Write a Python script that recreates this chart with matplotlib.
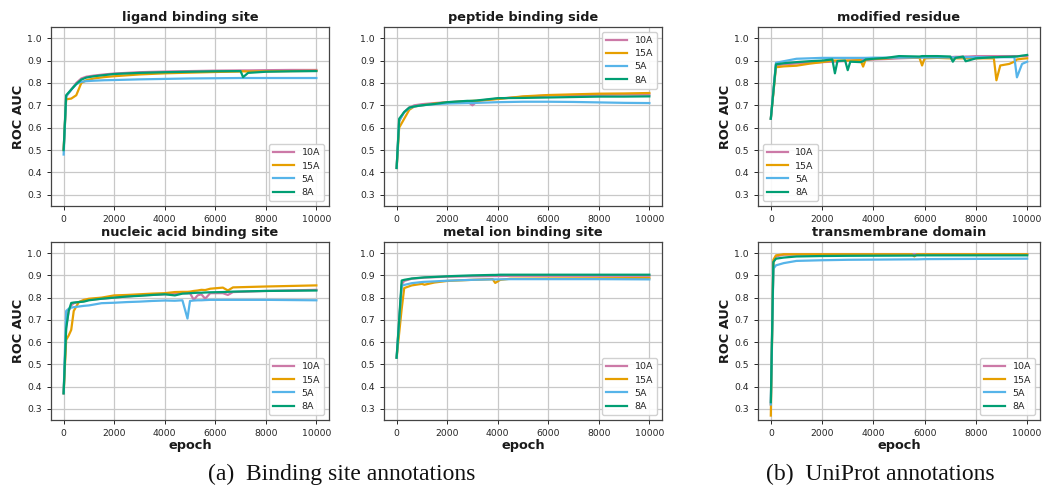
import matplotlib
matplotlib.use("Agg")
import matplotlib.pyplot as plt
import numpy as np

series_names = ["10A", "15A", "5A", "8A"]
colors = ["#CC79A7", "#E69F00", "#56B4E9", "#009E73"]

# ---------------- ligand binding site ----------------
lig_x = [0, 100, 300, 500, 700, 900, 1200, 1600, 2000, 3000, 4000, 5000, 6000, 7000, 7100, 7300, 8000, 9000, 10000]
lig_10A = [0.50, 0.74, 0.77, 0.80, 0.82, 0.828, 0.833, 0.838, 0.842, 0.848, 0.851, 0.853, 0.855, 0.856, 0.856, 0.856, 0.857, 0.858, 0.858]
lig_15A = [0.50, 0.727, 0.73, 0.745, 0.80, 0.812, 0.82, 0.826, 0.83, 0.838, 0.843, 0.846, 0.849, 0.851, 0.852, 0.851, 0.852, 0.853, 0.854]
lig_5A = [0.48, 0.74, 0.77, 0.795, 0.805, 0.808, 0.81, 0.812, 0.813, 0.816, 0.818, 0.82, 0.821, 0.822, 0.822, 0.822, 0.822, 0.822, 0.822]
lig_8A = [0.50, 0.745, 0.77, 0.795, 0.815, 0.824, 0.83, 0.835, 0.84, 0.845, 0.848, 0.850, 0.852, 0.853, 0.826, 0.845, 0.850, 0.852, 0.853]

# ---------------- peptide binding side ----------------
pep_x = [0, 100, 300, 500, 700, 1000, 1500, 2000, 2800, 3000, 3200, 4000, 5000, 6000, 7000, 8000, 9000, 10000]
pep_10A = [0.42, 0.63, 0.67, 0.69, 0.70, 0.705, 0.71, 0.714, 0.718, 0.70, 0.72, 0.73, 0.738, 0.744, 0.746, 0.747, 0.748, 0.748]
pep_15A = [0.42, 0.60, 0.64, 0.68, 0.695, 0.70, 0.708, 0.713, 0.718, 0.72, 0.72, 0.728, 0.74, 0.746, 0.749, 0.752, 0.753, 0.755]
pep_5A = [0.42, 0.63, 0.67, 0.687, 0.695, 0.70, 0.705, 0.708, 0.71, 0.71, 0.711, 0.714, 0.716, 0.716, 0.715, 0.713, 0.711, 0.71]
pep_8A = [0.42, 0.64, 0.67, 0.69, 0.695, 0.70, 0.706, 0.714, 0.72, 0.72, 0.722, 0.732, 0.733, 0.735, 0.737, 0.739, 0.739, 0.74]

# ---------------- modified residue ----------------
mod_x = [0, 200, 500, 1000, 1500, 2000, 2400, 2500, 2600, 2900, 3000, 3100, 3500, 3600, 3700, 4000, 4500, 5000,
         5800, 5900, 6000, 6500, 7000, 7100, 7200, 7500, 7600, 7700, 8000, 8700, 8800, 8950, 9300, 9500, 9600, 9800, 10000]
mod_10A = [0.64, 0.878, 0.883, 0.887, 0.89, 0.893, 0.895, 0.895, 0.896, 0.898, 0.90, 0.90, 0.902, 0.903, 0.903, 0.905, 0.907, 0.91,
           0.913, 0.914, 0.915, 0.915, 0.916, 0.916, 0.917, 0.917, 0.918, 0.918, 0.92, 0.92, 0.92, 0.92, 0.92, 0.92, 0.92, 0.92, 0.92]
mod_15A = [0.64, 0.87, 0.874, 0.877, 0.886, 0.893, 0.90, 0.90, 0.90, 0.90, 0.90, 0.90, 0.902, 0.873, 0.905, 0.907, 0.91, 0.913,
           0.912, 0.878, 0.91, 0.912, 0.91, 0.91, 0.91, 0.91, 0.91, 0.91, 0.91, 0.91, 0.812, 0.878, 0.885, 0.895, 0.905, 0.908, 0.91]
mod_5A = [0.64, 0.89, 0.897, 0.908, 0.91, 0.912, 0.912, 0.912, 0.912, 0.912, 0.912, 0.912, 0.912, 0.912, 0.912, 0.913, 0.913, 0.913,
          0.914, 0.914, 0.914, 0.914, 0.914, 0.914, 0.914, 0.915, 0.915, 0.915, 0.915, 0.915, 0.915, 0.915, 0.915, 0.915, 0.825, 0.885, 0.895]
mod_8A = [0.64, 0.883, 0.888, 0.893, 0.897, 0.90, 0.905, 0.843, 0.898, 0.90, 0.857, 0.895, 0.893, 0.897, 0.905, 0.908, 0.912, 0.92,
          0.918, 0.92, 0.92, 0.92, 0.918, 0.895, 0.912, 0.918, 0.897, 0.90, 0.91, 0.915, 0.915, 0.916, 0.917, 0.918, 0.918, 0.922, 0.925]

# ---------------- nucleic acid binding site ----------------
nuc_x = [0, 100, 200, 300, 400, 600, 800, 1000, 1500, 2000, 2500, 3000, 3500, 4000, 4400, 4700, 4900, 5000,
         5150, 5300, 5450, 5600, 5800, 6300, 6500, 6700, 8000, 10000]
nuc_10A = [0.37, 0.67, 0.74, 0.765, 0.775, 0.78, 0.785, 0.79, 0.795, 0.80, 0.805, 0.81, 0.812, 0.815, 0.818, 0.82, 0.82, 0.82,
           0.79, 0.81, 0.815, 0.795, 0.82, 0.82, 0.812, 0.825, 0.83, 0.835]
nuc_15A = [0.37, 0.61, 0.63, 0.655, 0.74, 0.78, 0.79, 0.795, 0.80, 0.81, 0.812, 0.815, 0.818, 0.82, 0.825, 0.826, 0.826, 0.827,
           0.83, 0.832, 0.835, 0.834, 0.84, 0.845, 0.832, 0.846, 0.85, 0.855]
nuc_5A = [0.37, 0.74, 0.75, 0.755, 0.757, 0.76, 0.763, 0.765, 0.775, 0.777, 0.78, 0.782, 0.785, 0.787, 0.786, 0.788, 0.706, 0.785,
          0.787, 0.788, 0.788, 0.789, 0.79, 0.79, 0.79, 0.79, 0.79, 0.788]
nuc_8A = [0.37, 0.66, 0.74, 0.776, 0.778, 0.78, 0.782, 0.788, 0.795, 0.80, 0.805, 0.808, 0.812, 0.815, 0.81, 0.818, 0.819, 0.82,
          0.821, 0.822, 0.822, 0.823, 0.824, 0.825, 0.826, 0.827, 0.83, 0.832]

# ---------------- metal ion binding site ----------------
met_x = [0, 200, 300, 600, 1000, 1100, 1500, 2000, 3000, 3800, 3900, 4100, 4500, 6000, 8000, 10000]
met_10A = [0.53, 0.86, 0.875, 0.885, 0.889, 0.89, 0.892, 0.894, 0.896, 0.897, 0.897, 0.897, 0.898, 0.898, 0.898, 0.898]
met_15A = [0.53, 0.75, 0.843, 0.855, 0.862, 0.858, 0.868, 0.875, 0.88, 0.883, 0.866, 0.88, 0.885, 0.886, 0.887, 0.888]
met_5A = [0.53, 0.853, 0.857, 0.865, 0.87, 0.871, 0.873, 0.876, 0.88, 0.882, 0.882, 0.882, 0.883, 0.883, 0.883, 0.882]
met_8A = [0.53, 0.877, 0.88, 0.886, 0.89, 0.891, 0.893, 0.896, 0.90, 0.902, 0.902, 0.903, 0.903, 0.903, 0.903, 0.903]

# ---------------- transmembrane domain ----------------
tm_x = [0, 100, 200, 500, 1000, 2000, 3000, 5500, 5600, 5700, 6000, 8000, 10000]
tm_10A = [0.32, 0.96, 0.985, 0.993, 0.994, 0.995, 0.995, 0.995, 0.995, 0.995, 0.995, 0.995, 0.995]
tm_15A = [0.27, 0.97, 0.99, 0.995, 0.995, 0.995, 0.995, 0.995, 0.985, 0.995, 0.995, 0.995, 0.995]
tm_5A = [0.32, 0.93, 0.945, 0.955, 0.965, 0.968, 0.970, 0.972, 0.972, 0.972, 0.973, 0.974, 0.975]
tm_8A = [0.33, 0.96, 0.975, 0.98, 0.985, 0.987, 0.988, 0.989, 0.989, 0.99, 0.99, 0.99, 0.99]

titles = ["ligand binding site", "peptide binding side", "modified residue",
          "nucleic acid binding site", "metal ion binding site", "transmembrane domain"]
panel_x = [lig_x, pep_x, mod_x, nuc_x, met_x, tm_x]
panel_y = [[lig_10A, lig_15A, lig_5A, lig_8A],
           [pep_10A, pep_15A, pep_5A, pep_8A],
           [mod_10A, mod_15A, mod_5A, mod_8A],
           [nuc_10A, nuc_15A, nuc_5A, nuc_8A],
           [met_10A, met_15A, met_5A, met_8A],
           [tm_10A, tm_15A, tm_5A, tm_8A]]
legend_locs = ["lower right", "upper right", "lower left", "lower right", "lower right", "lower right"]
yticks = [0.3, 0.4, 0.5, 0.6, 0.7, 0.8, 0.9, 1.0]
xticks = [0, 2000, 4000, 6000, 8000, 10000]

W, H = 1044, 488
fig = plt.figure(figsize=(W / 100, H / 100), dpi=100)

# axes boxes in pixels: left, top, width, height
boxes = [(51, 27, 278, 179), (384, 27, 278, 179), (758, 27, 282, 179),
         (51, 242, 278, 178), (384, 242, 278, 178), (758, 242, 282, 178)]

text_color = "#1a1a1a"
for i in range(6):
    l, t, w, h = boxes[i]
    ax = fig.add_axes([l / W, 1 - (t + h) / H, w / W, h / H])
    for name, c, y in zip(series_names, colors, panel_y[i]):
        ax.plot(panel_x[i], y, color=c, lw=1.6, label=name)
    ax.set_ylim(0.25, 1.05)
    ax.set_xlim(-500, 10500)
    ax.set_yticks(yticks)
    ax.set_xticks(xticks)
    ax.grid(True, color="#c8c8c8", lw=0.9)
    ax.set_axisbelow(True)
    ax.tick_params(labelsize=6.7, colors="#262626", length=3, width=0.7)
    for sp in ax.spines.values():
        sp.set_color("#444444")
        sp.set_linewidth(0.9)
    ax.set_title(titles[i], fontsize=9.3, fontweight="bold", color=text_color, pad=4)
    if i in (0, 2, 3, 5):
        ax.set_ylabel("ROC AUC", fontsize=9.3, fontweight="bold", color=text_color, labelpad=2)
    if i >= 3:
        ax.set_xlabel("epoch", fontsize=9.3, fontweight="bold", color=text_color, labelpad=1)
    leg = ax.legend(loc=legend_locs[i], fontsize=6.8, handlelength=2.2, borderpad=0.45,
                    labelspacing=0.45, framealpha=0.9, edgecolor="#cccccc", fancybox=True)
    for txt in leg.get_texts():
        txt.set_color("#262626")

fig.text(342 / W, 1 - 474 / H, "(a)  Binding site annotations", ha="center", va="center",
         fontsize=17, family="Liberation Serif", color="#111111")
fig.text(880 / W, 1 - 474 / H, "(b)  UniProt annotations", ha="center", va="center",
         fontsize=17, family="Liberation Serif", color="#111111")

fig.savefig("out.png", dpi=100)
